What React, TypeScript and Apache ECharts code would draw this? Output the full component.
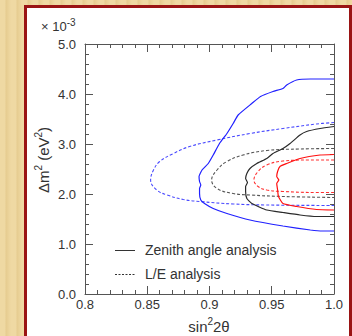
import React, { useEffect, useRef } from "react";
import * as echarts from "echarts";

// x: sin^2(2θ), y: Δm^2 in units of 1e-3 eV^2
const xTickLabels = ["0.8", "0.85", "0.9", "0.95", "1.0"];
const yTickLabels = ["0.0", "1.0", "2.0", "3.0", "4.0", "5.0"];

const zenith99: [number, number][] = [
  [1.0, 4.3], [0.981, 4.3], [0.97, 4.28], [0.962, 4.18], [0.959, 4.11], [0.951, 4.05],
  [0.941, 3.95], [0.934, 3.81], [0.923, 3.58], [0.919, 3.41], [0.914, 3.21], [0.908, 3.01],
  [0.903, 2.78], [0.899, 2.61], [0.894, 2.48], [0.8916, 2.35], [0.892, 2.25], [0.893, 2.18],
  [0.892, 2.11], [0.892, 2.01], [0.893, 1.88], [0.896, 1.81], [0.903, 1.71], [0.914, 1.61],
  [0.9325, 1.48], [0.959, 1.36], [0.981, 1.28], [0.991, 1.26], [1.0, 1.26],
];
const zenith90: [number, number][] = [
  [1.0, 3.35], [0.9888, 3.31], [0.978, 3.25], [0.9727, 3.18], [0.9647, 3.01], [0.959, 2.91],
  [0.951, 2.81], [0.946, 2.71], [0.938, 2.61], [0.9325, 2.51], [0.93, 2.41], [0.929, 2.31],
  [0.9305, 2.23], [0.929, 2.15], [0.929, 2.05], [0.93, 1.91], [0.934, 1.81], [0.946, 1.68],
  [0.959, 1.63], [0.9727, 1.58], [0.986, 1.55], [1.0, 1.55],
];
const zenith68: [number, number][] = [
  [1.0, 2.79], [0.9888, 2.78], [0.9727, 2.71], [0.962, 2.61], [0.9566, 2.55], [0.9547, 2.45],
  [0.954, 2.35], [0.9557, 2.28], [0.954, 2.21], [0.9547, 2.08], [0.9554, 1.95], [0.959, 1.81],
  [0.97, 1.75], [0.986, 1.69], [1.0, 1.68],
];
const le99: [number, number][] = [
  [1.0, 3.43], [0.986, 3.4], [0.959, 3.31], [0.9325, 3.21], [0.906, 3.08], [0.884, 2.95],
  [0.871, 2.81], [0.86, 2.65], [0.855, 2.48], [0.8527, 2.28], [0.8576, 2.08], [0.866, 1.98],
  [0.879, 1.89], [0.8924, 1.85], [0.919, 1.8], [0.946, 1.78], [1.0, 1.77],
];
const le90: [number, number][] = [
  [1.0, 2.91], [0.9727, 2.9], [0.946, 2.87], [0.927, 2.78], [0.914, 2.65], [0.906, 2.48],
  [0.9017, 2.28], [0.906, 2.11], [0.919, 2.01], [0.9325, 1.98], [0.959, 1.95], [1.0, 1.93],
];
const le68: [number, number][] = [
  [1.0, 2.68], [0.9807, 2.68], [0.959, 2.66], [0.946, 2.58], [0.939, 2.45], [0.9357, 2.28],
  [0.939, 2.15], [0.946, 2.08], [0.959, 2.05], [0.986, 2.03], [1.0, 2.03],
];

const FONT = "Liberation Sans, Arial, sans-serif";
const TXT = "#333";
const AXIS = "#555";

export default function App() {
  const ref = useRef<HTMLDivElement>(null);
  useEffect(() => {
    if (!ref.current) return;
    const chart = echarts.init(ref.current, undefined, { renderer: "svg" });
    const solid = (name: string, data: [number, number][], color: string) => ({
      name, type: "line", data, showSymbol: false, symbol: "none", smooth: 0.15,
      lineStyle: { color, width: 1.2, type: "solid" }, clip: true, silent: true,
    });
    const dashed = (name: string, data: [number, number][], color: string) => ({
      name, type: "line", data, showSymbol: false, symbol: "none", smooth: 0.4,
      lineStyle: { color, width: 1.1, type: [3, 2] }, clip: true, silent: true,
    });
    const axisBase = {
      axisLine: { show: true, onZero: false, lineStyle: { color: AXIS, width: 1 } },
      axisTick: { show: true, inside: true, length: 8, lineStyle: { color: AXIS, width: 1 } },
      minorTick: { show: true, splitNumber: 5, length: 4, lineStyle: { color: AXIS, width: 1 } },
      splitLine: { show: false },
      minorSplitLine: { show: false },
    };
    chart.setOption({
      animation: false,
      backgroundColor: "transparent",
      grid: { left: 85, top: 44, width: 249, height: 250, containLabel: false },
      xAxis: [
        {
          type: "value", min: 0.8, max: 1.0, interval: 0.05, position: "bottom",
          ...axisBase,
          axisLabel: {
            color: TXT, fontFamily: FONT, fontSize: 13, margin: 4,
            formatter: (v: number) => xTickLabels[Math.round((v - 0.8) / 0.05)] ?? "",
          },
        },
        {
          type: "value", min: 0.8, max: 1.0, interval: 0.05, position: "top",
          ...axisBase, axisLabel: { show: false },
        },
      ],
      yAxis: [
        {
          type: "value", min: 0, max: 5, interval: 1, position: "left",
          ...axisBase,
          axisLabel: {
            color: TXT, fontFamily: FONT, fontSize: 13, margin: 9,
            formatter: (v: number) => yTickLabels[Math.round(v)] ?? "",
          },
        },
        {
          type: "value", min: 0, max: 5, interval: 1, position: "right",
          ...axisBase, axisLabel: { show: false },
        },
      ],
      series: [
        dashed("LE99", le99, "#4a4aff"),
        dashed("LE90", le90, "#555"),
        dashed("LE68", le68, "#ff3030"),
        solid("Z99", zenith99, "#2020ff"),
        solid("Z90", zenith90, "#2a2a2a"),
        solid("Z68", zenith68, "#ff1010"),
      ],
      graphic: [
        {
          type: "text", x: 41, y: 26,
          style: {
            text: "{a|× 10}{s|-3}", align: "left", verticalAlign: "middle",
            rich: {
              a: { fontSize: 13, fontFamily: FONT, fill: TXT, color: TXT },
              s: { fontSize: 10, fontFamily: FONT, fill: TXT, color: TXT, padding: [0, 0, 8, 0] },
            },
          },
        },
        {
          type: "text", x: 43, y: 160, rotation: Math.PI / 2,
          style: {
            text: "{a|Δm}{s|2}{a| (eV}{s|2}{a|)}", align: "center", verticalAlign: "middle",
            rich: {
              a: { fontSize: 15, fontFamily: FONT, fill: TXT, color: TXT },
              s: { fontSize: 10, fontFamily: FONT, fill: TXT, color: TXT, padding: [0, 0, 9, 0] },
            },
          },
        },
        {
          type: "text", x: 209, y: 326,
          style: {
            text: "{a|sin}{s|2}{a|2θ}", align: "center", verticalAlign: "middle",
            rich: {
              a: { fontSize: 15, fontFamily: FONT, fill: TXT, color: TXT },
              s: { fontSize: 10, fontFamily: FONT, fill: TXT, color: TXT, padding: [0, 0, 9, 0] },
            },
          },
        },
        {
          type: "line", shape: { x1: 115, y1: 250.5, x2: 135, y2: 250.5 },
          style: { stroke: "#333", lineWidth: 1 },
        },
        {
          type: "line", shape: { x1: 115, y1: 274.5, x2: 135, y2: 274.5 },
          style: { stroke: "#333", lineWidth: 1, lineDash: [2, 1.5] },
        },
        {
          type: "text", x: 145, y: 250,
          style: { text: "Zenith angle analysis", fontSize: 14, fontFamily: FONT, fill: TXT, verticalAlign: "middle" },
        },
        {
          type: "text", x: 145, y: 274,
          style: { text: "L/E analysis", fontSize: 14, fontFamily: FONT, fill: TXT, verticalAlign: "middle" },
        },
      ],
    });
    return () => chart.dispose();
  }, []);

  return (
    <div
      style={{
        position: "fixed", left: 0, top: 0, width: 352, height: 336, overflow: "hidden",
        background:
          "repeating-linear-gradient(90deg, #efd9a3 0px, #efd9a3 5px, #e6cc90 6px, #ecd49b 9px, #efd9a3 11px)",
      }}
    >
      <div
        style={{
          position: "absolute", left: 24, top: 5, width: 322, height: 340,
          background: "#fff", border: "3px solid #9a1414",
        }}
      />
      <div ref={ref} style={{ position: "absolute", left: 0, top: 0, width: 352, height: 336 }} />
    </div>
  );
}
